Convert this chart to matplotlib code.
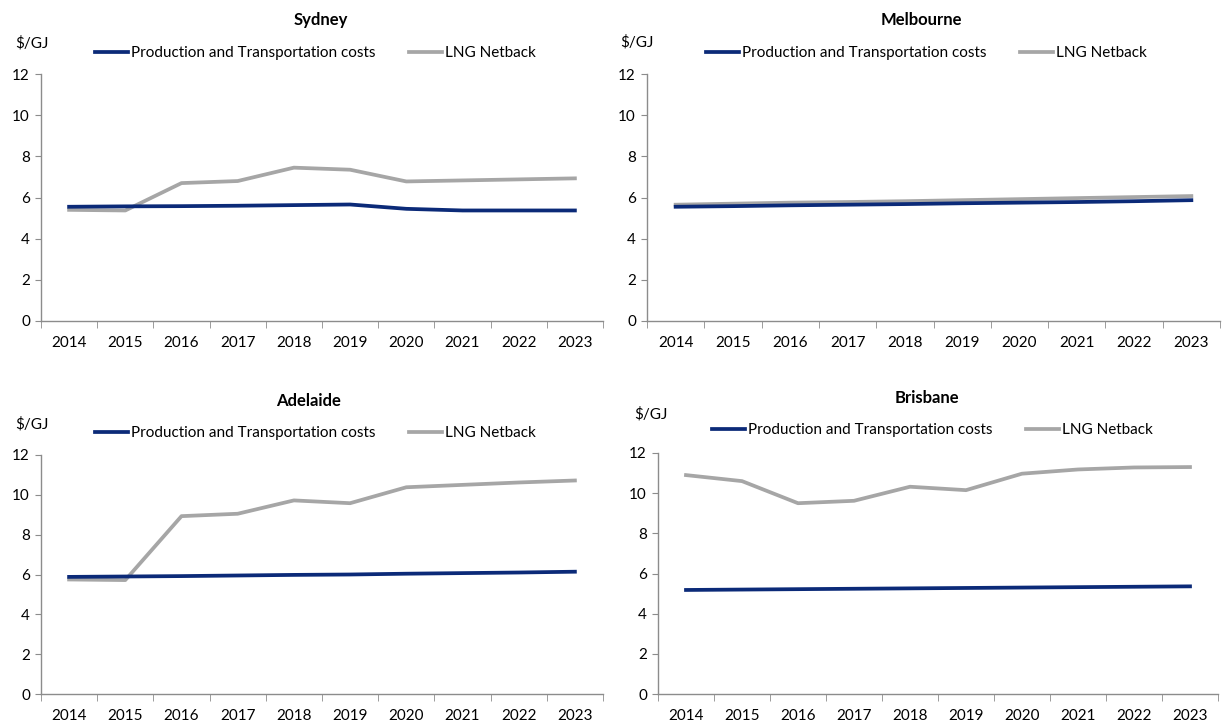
import matplotlib
matplotlib.use("Agg")
import matplotlib.pyplot as plt

plt.rcParams['font.family'] = ['Lato', 'DejaVu Sans']

years = ['2014', '2015', '2016', '2017', '2018', '2019', '2020', '2021', '2022', '2023']

syd_prod = [5.55, 5.57, 5.58, 5.60, 5.63, 5.66, 5.45, 5.37, 5.37, 5.37]
syd_lng = [5.40, 5.37, 6.70, 6.80, 7.45, 7.35, 6.78, 6.83, 6.88, 6.93]
mel_prod = [5.55, 5.58, 5.62, 5.65, 5.68, 5.72, 5.75, 5.78, 5.82, 5.87]
mel_lng = [5.65, 5.70, 5.75, 5.78, 5.82, 5.87, 5.92, 5.97, 6.02, 6.07]
ade_prod = [5.88, 5.90, 5.92, 5.95, 5.98, 6.00, 6.04, 6.07, 6.10, 6.14]
ade_lng = [5.75, 5.72, 8.93, 9.05, 9.72, 9.58, 10.38, 10.50, 10.62, 10.72]
bri_prod = [5.18, 5.20, 5.22, 5.24, 5.26, 5.28, 5.30, 5.32, 5.34, 5.36]
bri_lng = [10.90, 10.60, 9.50, 9.62, 10.32, 10.15, 10.97, 11.18, 11.28, 11.30]

navy = '#0b2a78'
grey = '#a6a6a6'
axcol = '#8c8c8c'

W, H = 1222.0, 726.0
fig = plt.figure(figsize=(12.22, 7.26), dpi=100)

# (name, prod, lng, axes box px [left, right, top, bottom], title xy, unit xy, legend xy)
panels = [
    ('Sydney', syd_prod, syd_lng, [41, 603, 74, 321], (321, 20), (32, 43), (315, 53)),
    ('Melbourne', mel_prod, mel_lng, [647, 1220, 74, 321], (921, 20), (637, 42), (926, 53)),
    ('Adelaide', ade_prod, ade_lng, [41, 603, 455, 694], (309, 401), (32, 424), (315, 433)),
    ('Brisbane', bri_prod, bri_lng, [658, 1218, 453, 694], (927, 398), (651, 414), (932, 430)),
]

x = list(range(len(years)))
for name, prod, lng, box, tpos, upos, lpos in panels:
    l, r, t, b = box
    ax = fig.add_axes([l / W, 1 - b / H, (r - l) / W, (b - t) / H])
    ax.plot(x, prod, color=navy, lw=2.7, label='Production and Transportation costs', zorder=3)
    ax.plot(x, lng, color=grey, lw=2.7, label='LNG Netback', zorder=2)
    ax.set_xlim(-0.5, 9.5)
    ax.set_ylim(0, 12)
    ax.set_yticks([0, 2, 4, 6, 8, 10, 12])
    ax.set_xticks(x)
    ax.set_xticklabels(years)
    ax.set_xticks([i - 0.5 for i in range(11)], minor=True)
    ax.tick_params(axis='x', which='major', length=0, pad=11, labelsize=11)
    ax.tick_params(axis='x', which='minor', length=5, direction='out', color=axcol)
    ax.tick_params(axis='y', length=4, direction='out', color=axcol, labelsize=11, pad=4)
    for s in ['top', 'right']:
        ax.spines[s].set_visible(False)
    for s in ['left', 'bottom']:
        ax.spines[s].set_color(axcol)
        ax.spines[s].set_linewidth(1.0)
    fig.text(tpos[0] / W, 1 - tpos[1] / H, name, ha='center', va='center',
             fontsize=12, fontweight='bold')
    fig.text(upos[0] / W, 1 - upos[1] / H, '$/GJ', ha='center', va='center', fontsize=11)
    ax.legend(loc='center', bbox_to_anchor=(lpos[0] / W, 1 - lpos[1] / H),
              bbox_transform=fig.transFigure, ncol=2, frameon=False, fontsize=11,
              handlelength=2.2, handletextpad=0.15, columnspacing=2.2,
              borderpad=0, borderaxespad=0)

fig.savefig('out.png', dpi=100)
